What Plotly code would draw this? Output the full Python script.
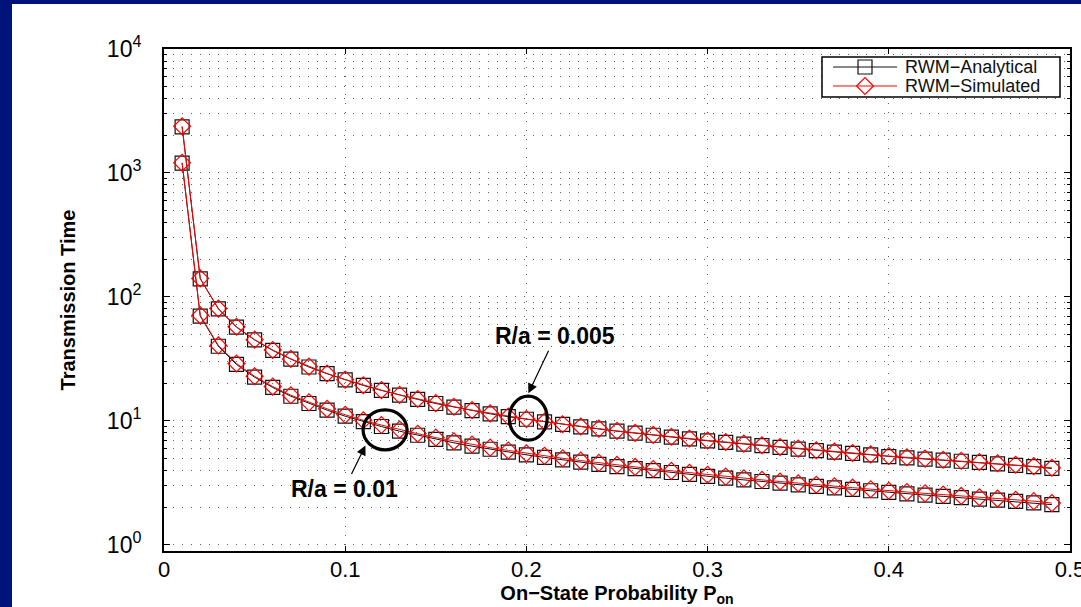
import numpy as np
import plotly.graph_objects as go

# On-state probability grid
p_on = [round(0.01 * k, 2) for k in range(1, 50)]

# Analytical transmission time, R/a = 0.005
ana_005 = [2350, 140, 80, 57, 45, 37, 31.5, 27.2, 24.0, 21.4,
           19.3, 17.6, 16.1, 14.9, 13.8, 12.9, 12.1, 11.4, 10.8, 10.3,
           9.8, 9.35, 8.95, 8.6, 8.25, 7.95, 7.65, 7.4, 7.15, 6.9,
           6.7, 6.5, 6.3, 6.1, 5.92, 5.76, 5.6, 5.46, 5.32, 5.15,
           5.03, 4.92, 4.82, 4.72, 4.62, 4.5, 4.38, 4.27, 4.13]

# Analytical transmission time, R/a = 0.01
ana_01 = [1200, 70, 40, 28.5, 22.5, 18.6, 15.8, 13.8, 12.2, 10.9,
          9.85, 9.0, 8.25, 7.65, 7.1, 6.65, 6.25, 5.9, 5.6, 5.32,
          5.07, 4.84, 4.64, 4.45, 4.28, 4.12, 3.97, 3.83, 3.7, 3.56,
          3.45, 3.34, 3.24, 3.14, 3.04, 2.96, 2.88, 2.8, 2.73, 2.65,
          2.58, 2.52, 2.46, 2.4, 2.34, 2.29, 2.24, 2.18, 2.11]

# Simulated transmission time, R/a = 0.005
sim_005 = [2380, 141, 80.5, 57.4, 45.2, 37.3, 31.6, 27.4, 24.1, 21.5,
           19.4, 17.7, 16.2, 15.0, 13.9, 13.0, 12.2, 11.5, 10.85, 10.35,
           9.85, 9.4, 9.0, 8.65, 8.3, 8.0, 7.7, 7.45, 7.2, 6.95,
           6.75, 6.55, 6.35, 6.15, 5.97, 5.8, 5.65, 5.5, 5.36, 5.2,
           5.08, 4.96, 4.86, 4.76, 4.66, 4.55, 4.43, 4.31, 4.18]

# Simulated transmission time, R/a = 0.01
sim_01 = [1210, 71, 40.6, 29.0, 22.9, 18.9, 16.1, 14.1, 12.5, 11.2,
          10.1, 9.25, 8.5, 7.88, 7.32, 6.85, 6.44, 6.08, 5.77, 5.48,
          5.22, 4.99, 4.78, 4.58, 4.41, 4.25, 4.09, 3.95, 3.81, 3.67,
          3.55, 3.44, 3.34, 3.24, 3.14, 3.05, 2.97, 2.89, 2.81, 2.73,
          2.66, 2.6, 2.54, 2.48, 2.42, 2.36, 2.31, 2.25, 2.17]

y_tickvals = [1, 10, 100, 1000, 10000]
y_ticktext = ["10<sup>0</sup>", "10<sup>1</sup>", "10<sup>2</sup>",
              "10<sup>3</sup>", "10<sup>4</sup>"]
x_tickvals = [0, 0.1, 0.2, 0.3, 0.4, 0.5]
x_ticktext = ["0", "0.1", "0.2", "0.3", "0.4", "0.5"]

NAVY = "#00137A"
FONT = "Liberation Sans, Arial, sans-serif"
GRID_DASH = "1px,8px"
GRID_COLOR = "#606060"

# Figure and plot-area geometry (pixels)
W, H = 1081, 607
L, R, T, B = 164, 11, 49, 56
pw, ph = W - L - R, H - T - B
X_RANGE = [0, 0.5]
Y_LOG_RANGE = [-0.05, 4]
x_per_px = (X_RANGE[1] - X_RANGE[0]) / pw
decade_px = ph / (Y_LOG_RANGE[1] - Y_LOG_RANGE[0])


def px_to_x(px):
    return X_RANGE[0] + (px - L) * x_per_px


def py_to_y(py):
    return 10 ** (Y_LOG_RANGE[1] - (py - T) / decade_px)


fig = go.Figure()

ana_style = dict(line=dict(color="#111111", width=1),
                 marker=dict(symbol="square-open", size=14,
                             color="#111111", line=dict(width=1.2)))
sim_style = dict(line=dict(color="#FF0000", width=1),
                 marker=dict(symbol="diamond-open", size=13,
                             color="#FF0000", line=dict(width=1.2)))

for ys in [ana_005, ana_01]:
    fig.add_trace(go.Scatter(x=p_on, y=ys, mode="lines+markers",
                             name="RWM\u2212Analytical", showlegend=False, **ana_style))
for ys in [sim_005, sim_01]:
    fig.add_trace(go.Scatter(x=p_on, y=ys, mode="lines+markers",
                             name="RWM\u2212Simulated", showlegend=False, **sim_style))


def ring(xc, yc, rx_px, ry_px):
    """Ellipse around (xc, yc) with radii given in pixels."""
    f = 10 ** (ry_px / decade_px)
    fig.add_shape(type="circle", xref="x", yref="y",
                  x0=xc - rx_px * x_per_px, x1=xc + rx_px * x_per_px,
                  y0=yc / f, y1=yc * f,
                  line=dict(color="black", width=3.2))


# Circles around the highlighted curves
hl_005 = p_on.index(0.2)
hl_01 = p_on.index(0.12)
ring(p_on[hl_005] + 0.001, ana_005[hl_005] * 1.02, 19, 22)
ring(p_on[hl_01] + 0.002, ana_01[hl_01] * 0.94, 22, 20)

# Labels with arrows pointing at the circles
fig.add_annotation(x=p_on[hl_005], y=np.log10(ana_005[hl_005]),
                   xshift=2, yshift=26, ax=27, ay=-57,
                   text="<b>R/a = 0.005</b>", showarrow=True,
                   arrowhead=2, arrowsize=1.6, arrowwidth=1.2,
                   arrowcolor="black", standoff=0,
                   font=dict(family=FONT, size=23, color="black"))
fig.add_annotation(x=p_on[hl_01], y=np.log10(ana_01[hl_01]),
                   xshift=-16, yshift=-19, ax=-21, ay=43,
                   text="<b>R/a = 0.01</b>", showarrow=True,
                   arrowhead=2, arrowsize=1.6, arrowwidth=1.2,
                   arrowcolor="black", standoff=0,
                   font=dict(family=FONT, size=23, color="black"))

# Legend box (pixel placement inside the plot area)
LEG = dict(x0=822, x1=1060, y0=57, y1=97, rows=[67, 86],
           line_x=[833, 897], text_x=903)
fig.add_shape(type="rect", xref="x", yref="y", layer="between",
              x0=px_to_x(LEG["x0"]), x1=px_to_x(LEG["x1"]),
              y0=py_to_y(LEG["y1"]), y1=py_to_y(LEG["y0"]),
              fillcolor="white", line=dict(color="black", width=1.5))
for row_y, label, style in [(LEG["rows"][0], "RWM\u2212Analytical", ana_style),
                            (LEG["rows"][1], "RWM\u2212Simulated", sim_style)]:
    fig.add_trace(go.Scatter(x=LEG["line_x"], y=[row_y, row_y], mode="lines",
                             xaxis="x2", yaxis="y2", showlegend=False,
                             hoverinfo="skip", line=style["line"]))
    fig.add_trace(go.Scatter(x=[sum(LEG["line_x"]) / 2], y=[row_y], mode="markers",
                             xaxis="x2", yaxis="y2", showlegend=False,
                             hoverinfo="skip", marker=style["marker"]))
    fig.add_annotation(x=LEG["text_x"], y=row_y, xref="x2", yref="y2",
                       text=label, showarrow=False, xanchor="left", yanchor="middle",
                       font=dict(family=FONT, size=18, color="#111111"))

# Slide frame: navy strips along the top and left edges
fig.add_shape(type="rect", xref="paper", yref="paper", layer="below",
              x0=-L / pw - 0.01, x1=(12 - L) / pw, y0=-B / ph - 0.01, y1=1 + T / ph + 0.01,
              fillcolor=NAVY, line=dict(width=0))
fig.add_shape(type="rect", xref="paper", yref="paper", layer="below",
              x0=-L / pw - 0.01, x1=1 + R / pw + 0.01, y0=(H - B - 4) / ph, y1=1 + T / ph + 0.01,
              fillcolor=NAVY, line=dict(width=0))

fig.update_layout(
    width=W, height=H,
    margin=dict(l=L, r=R, t=T, b=B, pad=0, autoexpand=False),
    paper_bgcolor="white", plot_bgcolor="white",
    font=dict(family=FONT, color="black"),
    showlegend=False,
    xaxis=dict(
        range=X_RANGE, tickvals=x_tickvals, ticktext=x_ticktext,
        automargin=False,
        ticks="inside", ticklen=5, tickwidth=1, tickcolor="black",
        showline=True, linecolor="black", linewidth=2, mirror="ticks",
        showgrid=True, gridcolor=GRID_COLOR, gridwidth=1, griddash=GRID_DASH,
        zeroline=False, ticklabeloverflow="allow",
        tickfont=dict(family=FONT, size=22, color="black"),
        ticklabelstandoff=-2,
        title=dict(text="<b>On\u2212State Probability P<sub>on</sub></b>",
                   font=dict(family=FONT, size=20, color="black"), standoff=0),
    ),
    yaxis=dict(
        type="log", range=Y_LOG_RANGE,
        tickvals=y_tickvals, ticktext=y_ticktext,
        automargin=False,
        ticks="inside", ticklen=6, tickwidth=1, tickcolor="black",
        showline=True, linecolor="black", linewidth=2, mirror="ticks",
        showgrid=True, gridcolor=GRID_COLOR, gridwidth=1, griddash=GRID_DASH,
        zeroline=False,
        minor=dict(dtick="D1", ticks="inside", ticklen=3, tickcolor="black",
                   showgrid=True, gridcolor=GRID_COLOR, gridwidth=1, griddash=GRID_DASH),
        tickfont=dict(family=FONT, size=23, color="black"),
        ticklabelstandoff=16,
        title=dict(text="<b>Transmission Time</b>",
                   font=dict(family=FONT, size=20, color="black"), standoff=26),
    ),
    xaxis2=dict(overlaying="x", range=[L, W - R], visible=False, fixedrange=True),
    yaxis2=dict(overlaying="y", range=[H - B, T], visible=False, fixedrange=True),
)

fig.write_html("out.html")
